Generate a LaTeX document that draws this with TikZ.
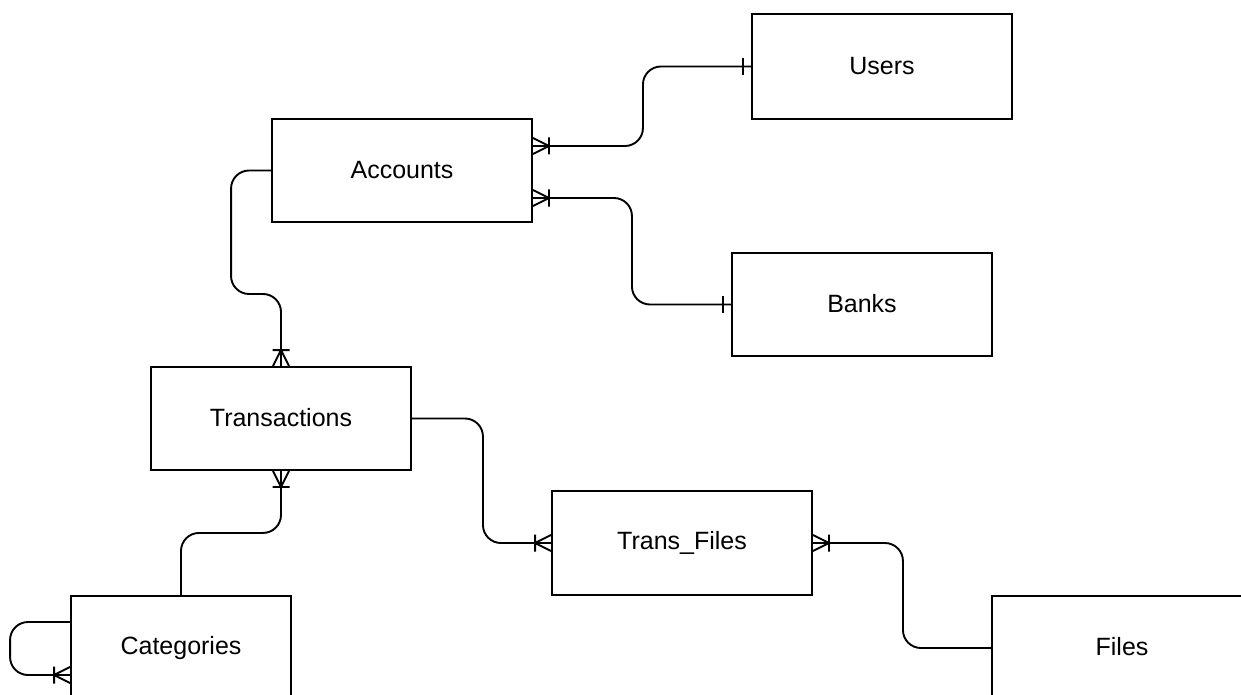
\documentclass[tikz,border=0pt]{standalone}
\usepackage{fontspec}
\setmainfont{Liberation Sans}
\pgfdeclarearrow{
  name = crow,
  setup code = {
    \pgfarrowssettipend{0pt}
    \pgfarrowssetlineend{0pt}
    \pgfarrowssetbackend{-16pt}
    \pgfarrowssetvisualbackend{-16pt}
  },
  drawing code = {
    \pgfsetdash{}{0pt}
    \pgfpathmoveto{\pgfpoint{-16pt}{0pt}}
    \pgfpathlineto{\pgfpoint{0pt}{8pt}}
    \pgfpathmoveto{\pgfpoint{-16pt}{0pt}}
    \pgfpathlineto{\pgfpoint{0pt}{-8pt}}
    \pgfpathmoveto{\pgfpoint{-16pt}{8.5pt}}
    \pgfpathlineto{\pgfpoint{-16pt}{-8.5pt}}
    \pgfusepathqstroke
  }
}
\pgfdeclarearrow{
  name = onebar,
  setup code = {
    \pgfarrowssettipend{0pt}
    \pgfarrowssetlineend{0pt}
    \pgfarrowssetbackend{-8pt}
    \pgfarrowssetvisualbackend{-8pt}
  },
  drawing code = {
    \pgfsetdash{}{0pt}
    \pgfpathmoveto{\pgfpoint{-8pt}{8.5pt}}
    \pgfpathlineto{\pgfpoint{-8pt}{-8.5pt}}
    \pgfusepathqstroke
  }
}
\tikzset{
  entity/.style={draw=black, line width=1.9pt, fill=white, minimum width=260pt,
    minimum height=103pt, inner sep=0pt, font=\fontsize{25}{30}\selectfont},
  conn/.style={draw=black, line width=1.9pt, rounded corners=18pt}
}
\newcommand{\lift}[2][2pt]{\raisebox{#1}{#2}}
\begin{document}
\begin{tikzpicture}[x=1pt, y=-1pt]
\clip (0,0) rectangle (1241,695);
\fill[white] (0,0) rectangle (1241,695);

\node[entity, minimum height=105pt] (Users) at (882,66.5) {\lift{Users}};
\node[entity] (Accounts) at (402,170.5) {\lift{Accounts}};
\node[entity] (Banks) at (862,304.5) {\lift{Banks}};
\node[entity] (Transactions) at (281,418.5) {\lift{Transactions}};
\node[entity, minimum height=104pt] (TransFiles) at (682,543) {\lift{Trans\_Files}};
\node[entity, minimum width=220pt, minimum height=104pt] (Categories) at (181,648) {\lift[1.5pt]{Categories}};
\node[entity, minimum height=104pt] (Files) at (1122,648) {\lift[3pt]{Files}};

\coordinate (y146) at (0,146);
\coordinate (y198) at (0,198);
\coordinate (y622) at (0,622);
\coordinate (y675) at (0,675);

\draw[conn, crow-onebar] (Accounts.east |- y146) -- ++(110,0) |- (Users.west);
\draw[conn, crow-onebar] (Accounts.east |- y198) -- ++(99,0) |- (Banks.west);
\draw[conn, -crow] (Accounts.west) -- ++(-40,0) -- ++(0,123.5) -| (Transactions.north);
\draw[conn, crow-] (Transactions.south) -- ++(0,62) -| (Categories.north);
\draw[conn, -crow] (Transactions.east) -- ++(71,0) |- (TransFiles.west);
\draw[conn, crow-] (TransFiles.east) -- ++(90,0) |- (Files.west);
\draw[conn, -crow] (Categories.west |- y622) -- ++(-60,0) |- (Categories.west |- y675);
\end{tikzpicture}
\end{document}
